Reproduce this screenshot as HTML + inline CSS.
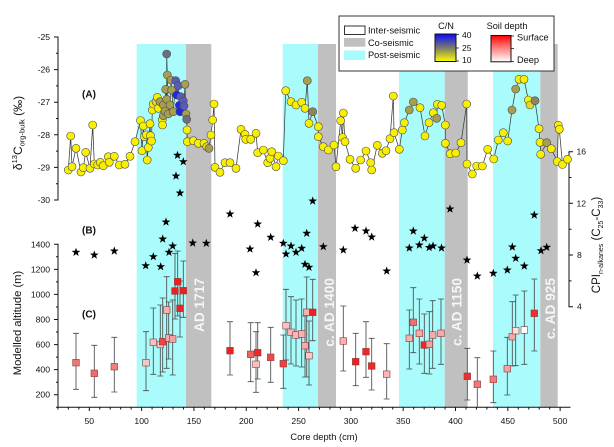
<!DOCTYPE html>
<html><head><meta charset="utf-8">
<style>
html,body{margin:0;padding:0;background:#fff;}
svg{display:block;font-family:"Liberation Sans",Arial,sans-serif;}
.y{fill:#f8f000}.y2{fill:#e0d830}.o{fill:#a89e50}.g{fill:#8c8660}.s{fill:#6e6e80}.p{fill:#5a5ab8}.b{fill:#1e28e8}
</style></head>
<body>
<svg width="614" height="447" viewBox="0 0 614 447" xmlns="http://www.w3.org/2000/svg">
<defs>
<path id="st" d="M0,-4.6L1.08,-1.49L4.37,-1.42L1.75,0.57L2.7,3.72L0,1.84L-2.7,3.72L-1.75,0.57L-4.37,-1.42L-1.08,-1.49Z" fill="#000"/>
<linearGradient id="cn" x1="0" y1="0" x2="0" y2="1"><stop offset="0" stop-color="#0a0aff"/><stop offset="0.5" stop-color="#7a7a6a"/><stop offset="1" stop-color="#ffff00"/></linearGradient>
<linearGradient id="sd" x1="0" y1="0" x2="0" y2="1"><stop offset="0" stop-color="#ff0000"/><stop offset="0.35" stop-color="#ff6060"/><stop offset="1" stop-color="#ffffff"/></linearGradient>
</defs>
<!-- bands -->
<g>
<rect x="136.7" y="44" width="49.3" height="363" fill="#aafcfc"/>
<rect x="186" y="44" width="25.3" height="363" fill="#c0c0c0"/>
<rect x="282.7" y="44" width="35.3" height="363" fill="#aafcfc"/>
<rect x="318" y="44" width="18" height="363" fill="#c0c0c0"/>
<rect x="399" y="44" width="45.7" height="363" fill="#aafcfc"/>
<rect x="444.7" y="44" width="23" height="363" fill="#c0c0c0"/>
<rect x="493" y="44" width="47.3" height="363" fill="#aafcfc"/>
<rect x="540.3" y="44" width="17.4" height="363" fill="#c0c0c0"/>
</g>
<!-- legend -->
<rect x="339" y="16" width="215" height="55" fill="#fff" stroke="#333" stroke-width="1"/>
<rect x="344.5" y="26" width="20.5" height="8.5" fill="#fff" stroke="#333" stroke-width="1"/>
<rect x="344" y="38" width="21.3" height="8.7" fill="#c0c0c0"/>
<rect x="344" y="50.5" width="21.3" height="9.5" fill="#aafcfc"/>
<g font-size="9.2" fill="#111">
<text x="368" y="33.5">Inter-seismic</text>
<text x="368" y="45.8">Co-seismic</text>
<text x="368" y="58">Post-seismic</text>
<text x="446" y="29" text-anchor="middle">C/N</text>
<text x="507" y="29" text-anchor="middle">Soil depth</text>
<text x="517" y="40.5">Surface</text>
<text x="517" y="63">Deep</text>
</g>
<rect x="435" y="34" width="21" height="27.5" fill="url(#cn)" stroke="#111" stroke-width="1"/>
<path d="M456,34.5h3M456,48h3M456,61h3M511,36h3M511,48.5h3M511,61.5h3" stroke="#111" stroke-width="0.8"/>
<rect x="491" y="35.5" width="20" height="26.3" fill="url(#sd)" stroke="#111" stroke-width="1"/>
<g font-size="8.5" fill="#111">
<text x="462" y="38">40</text>
<text x="462" y="51">25</text>
<text x="462" y="63">10</text>
</g>
<!-- band labels -->
<g font-size="13.7" font-weight="bold" fill="#f6f6f6" text-anchor="end">
<text transform="translate(204,278) rotate(-90)">AD 1717</text>
<text transform="translate(334,278) rotate(-90)">c. AD 1400</text>
<text transform="translate(461.5,278) rotate(-90)">c. AD 1150</text>
<text transform="translate(555,278) rotate(-90)">c. AD 925</text>
</g>
<!-- axes -->
<g stroke="#111" stroke-width="1" fill="none">
<path d="M58,36.5V200.5"/>
<path d="M54,37h4M54,69.6h4M54,102.2h4M54,134.8h4M54,167.4h4M54,200h4M56,53.3h2M56,85.9h2M56,118.5h2M56,151.1h2M56,183.7h2"/>
<path d="M58,243.8V407.3"/>
<path d="M54,244.3h4M54,269.4h4M54,294.4h4M54,319.5h4M54,344.6h4M54,369.6h4M54,394.7h4M56,256.8h2M56,281.9h2M56,307h2M56,332h2M56,357.1h2M56,382.2h2"/>
<path d="M56,407.3H570.5"/>
<path d="M89.3,407v4M141.62,407v4M193.93,407v4M246.25,407v4M298.56,407v4M350.88,407v4M403.19,407v4M455.51,407v4M507.82,407v4M560.14,407v4"/>
<path d="M57.91,407v2.5M68.37,407v2.5M78.84,407v2.5M99.76,407v2.5M110.23,407v2.5M120.69,407v2.5M131.15,407v2.5M152.08,407v2.5M162.54,407v2.5M173,407v2.5M183.47,407v2.5M204.39,407v2.5M214.86,407v2.5M225.32,407v2.5M235.78,407v2.5M256.71,407v2.5M267.17,407v2.5M277.63,407v2.5M288.1,407v2.5M309.02,407v2.5M319.49,407v2.5M329.95,407v2.5M340.41,407v2.5M361.34,407v2.5M371.8,407v2.5M382.26,407v2.5M392.73,407v2.5M413.65,407v2.5M424.12,407v2.5M434.58,407v2.5M445.04,407v2.5M465.97,407v2.5M476.43,407v2.5M486.89,407v2.5M497.36,407v2.5M518.28,407v2.5M528.75,407v2.5M539.21,407v2.5M549.67,407v2.5"/>
<path d="M569,151.2V307.2"/>
<path d="M569,151.7h4M569,203.3h4M569,255h4M569,306.7h4M569,177.5h2.5M569,229.2h2.5M569,280.9h2.5"/>
</g>
<g font-size="8.6" fill="#111" text-anchor="end">
<text x="50" y="40">-25</text><text x="50" y="72.6">-26</text><text x="50" y="105.2">-27</text><text x="50" y="137.8">-28</text><text x="50" y="170.4">-29</text><text x="50" y="203">-30</text>
<text x="50" y="247.3">1400</text><text x="50" y="272.4">1200</text><text x="50" y="297.4">1000</text><text x="50" y="322.5">800</text><text x="50" y="347.6">600</text><text x="50" y="372.6">400</text><text x="50" y="397.7">200</text>
</g>
<g font-size="8.6" fill="#111" text-anchor="middle">
<text x="89.3" y="424">50</text><text x="141.6" y="424">100</text><text x="193.9" y="424">150</text><text x="246.2" y="424">200</text><text x="298.6" y="424">250</text><text x="350.9" y="424">300</text><text x="403.2" y="424">350</text><text x="455.5" y="424">400</text><text x="507.8" y="424">450</text><text x="560.1" y="424">500</text>
</g>
<g font-size="8.6" fill="#111">
<text x="576.5" y="154.7">16</text><text x="576.5" y="206.3">12</text><text x="577" y="258">8</text><text x="577" y="309.7">4</text>
</g>
<text x="324" y="440" font-size="9.3" fill="#111" text-anchor="middle">Core depth (cm)</text>
<text transform="translate(21,323) rotate(-90)" font-size="11.2" fill="#111" text-anchor="middle">Modelled altitude (m)</text>
<text transform="translate(22,133) rotate(-90)" font-size="12" fill="#111" text-anchor="middle">δ<tspan font-size="7.5" dy="-5">13</tspan><tspan dy="5">C</tspan><tspan font-size="7.5" dy="2.5">org-bulk</tspan><tspan dy="-2.5"> (‰)</tspan></text>
<text transform="translate(600,245) rotate(-90)" font-size="11.5" fill="#111" text-anchor="middle">CPI<tspan font-size="7" dy="3">n-alkanes</tspan><tspan dy="-3"> (C</tspan><tspan font-size="7" dy="3">25</tspan><tspan dy="-3">-C</tspan><tspan font-size="7" dy="3">33</tspan><tspan dy="-3">)</tspan></text>
<g font-size="10" font-weight="bold" fill="#111" text-anchor="middle">
<text x="89" y="97.5">(A)</text>
<text x="89" y="233.5">(B)</text>
<text x="89" y="317.5">(C)</text>
</g>
<!-- panel A line -->
<polyline fill="none" stroke="#3a3a3a" stroke-width="0.75" points="68.3,170 70.7,136 72,166.7 76,148.3 81,172 83.3,167.7 85.7,152.3 90,168.3 92.7,125 94.3,164 97.7,165 100.3,162.3 103.3,165.7 108.3,156.7 109.3,162.3 114.3,156.3 119.3,165 125,164.3 130,156.3 135,141.7 140.5,120.5 142,150.7 143.3,126 144.3,136.7 146.3,134.8 147.2,160 148.3,147.5 150,123.7 150.5,135.7 151.5,141 152.3,110 153.3,104 156,101.7 157.3,97.3 158.3,108.3 160,101.7 162.3,120 162.5,125 163.3,105 163.3,115.7 165,111 165.7,89.3 166.7,99.3 166.7,54 167.3,75 168.3,114 170,105 171,80 171.7,90 173.3,111.7 175.7,80.7 176.7,95 178.3,85.7 179.3,105.3 180,111.7 180.7,96.7 183.3,101 184,106 185,84.3 186,114 186.7,119.3 187,130 187.3,141.7 193.3,140.7 198.3,143.3 204,143.3 206.7,146.7 209,148.3 211,135 212.7,120 214,104 215,167.3 220,172.3 225,162.7 230,162.7 236,168.3 241,129.3 245,134.3 245.7,139.3 250.7,139.3 256,133.3 257.7,152.7 263.3,150 267.7,162.7 270,158.3 271.7,151.7 276,166.7 278.3,156 283.3,160.7 285.7,90.7 291,101.7 296,105 301.7,102.3 305,108.3 307.3,80.7 309,123.3 312.7,111.7 318.3,126.7 318.3,136.7 323.3,146.7 328.3,150 334,145 336,166.7 340.7,120.7 342.5,137.5 343.3,113 345,141.7 350,159.3 355.7,168.3 360.7,160 366,151 370.7,162.7 371.7,170 377.3,145.3 382.3,153.3 386,150.7 390,138.7 393.3,96 394,132.7 399.3,149.3 402.3,130 404.3,122.7 409.3,110 413.3,102 420,107.7 425,136 429,122.7 433.3,112.7 436.7,118.3 437.3,104.3 441.7,105.3 445.3,125 445.3,143.3 450.3,153.7 455.7,153 461,142.7 466.7,104 467,164 472.3,174 476.7,166 482.3,166 487.7,149.3 493.7,159 498.3,140 503.3,132.7 507.7,141 512,110 515.7,89 519,79.3 524,79.3 528.3,100 530,105 535,100.7 539,128.7 540,142.3 540.7,154.3 546.7,142.7 551.3,148.7 557.3,161.5 558.3,125.3 559.3,129.3 562.5,164.5 567.5,159.2"/>
<g stroke="#4a4a4a" stroke-width="0.6">
<circle class="y" cx="68.3" cy="170" r="4"/><circle class="y" cx="70.7" cy="136" r="4"/><circle class="y" cx="72" cy="166.7" r="4"/><circle class="y" cx="76" cy="148.3" r="4"/><circle class="y" cx="81" cy="172" r="4"/><circle class="y" cx="83.3" cy="167.7" r="4"/><circle class="y" cx="85.7" cy="152.3" r="4"/><circle class="y" cx="90" cy="168.3" r="4"/><circle class="y" cx="92.7" cy="125" r="4"/><circle class="y" cx="94.3" cy="164" r="4"/><circle class="y" cx="97.7" cy="165" r="4"/><circle class="y" cx="100.3" cy="162.3" r="4"/><circle class="y" cx="103.3" cy="165.7" r="4"/><circle class="y" cx="108.3" cy="156.7" r="4"/><circle class="y" cx="109.3" cy="162.3" r="4"/><circle class="y" cx="114.3" cy="156.3" r="4"/><circle class="y" cx="119.3" cy="165" r="4"/><circle class="y" cx="125" cy="164.3" r="4"/><circle class="y" cx="130" cy="156.3" r="4"/><circle class="y" cx="135" cy="141.7" r="4"/><circle class="y" cx="140.5" cy="120.5" r="4"/><circle class="y" cx="142" cy="150.7" r="4"/><circle class="y" cx="143.3" cy="126" r="4"/><circle class="y" cx="144.3" cy="136.7" r="4"/><circle class="y" cx="146.3" cy="134.8" r="4"/><circle class="y" cx="147.2" cy="160" r="4"/><circle class="y" cx="148.3" cy="147.5" r="4"/><circle class="y" cx="150" cy="123.7" r="4"/><circle class="y" cx="150.5" cy="135.7" r="4"/><circle class="y" cx="151.5" cy="141" r="4"/><circle class="y" cx="152.3" cy="110" r="4"/><circle class="y" cx="153.3" cy="104" r="4"/><circle class="y2" cx="156" cy="101.7" r="4"/><circle class="y" cx="157.3" cy="97.3" r="4"/><circle class="y" cx="158.3" cy="108.3" r="4"/><circle class="o" cx="160" cy="101.7" r="4"/><circle class="y" cx="162.3" cy="120" r="4"/><circle class="y" cx="162.5" cy="125" r="4"/><circle class="o" cx="163.3" cy="105" r="4"/><circle class="o" cx="163.3" cy="115.7" r="4"/><circle class="o" cx="165" cy="111" r="4"/><circle class="o" cx="165.7" cy="89.3" r="4"/><circle class="o" cx="166.7" cy="99.3" r="4"/><circle class="s" cx="166.7" cy="54" r="4"/><circle class="o" cx="167.3" cy="75" r="4"/><circle class="o" cx="168.3" cy="114" r="4"/><circle class="o" cx="170" cy="105" r="4"/><circle class="o" cx="171" cy="80" r="4"/><circle class="o" cx="171.7" cy="90" r="4"/><circle class="o" cx="173.3" cy="111.7" r="4"/><circle class="p" cx="175.7" cy="80.7" r="4"/><circle class="b" cx="176.7" cy="95" r="4"/><circle class="p" cx="178.3" cy="85.7" r="4"/><circle class="b" cx="179.3" cy="105.3" r="4"/><circle class="b" cx="180" cy="111.7" r="4"/><circle class="p" cx="180.7" cy="96.7" r="4"/><circle class="p" cx="183.3" cy="101" r="4"/><circle class="p" cx="184" cy="106" r="4"/><circle class="o" cx="185" cy="84.3" r="4"/><circle class="o" cx="186" cy="114" r="4"/><circle class="s" cx="186.7" cy="119.3" r="4"/><circle class="y" cx="187" cy="130" r="4"/><circle class="y" cx="187.3" cy="141.7" r="4"/><circle class="y" cx="193.3" cy="140.7" r="4"/><circle class="y" cx="198.3" cy="143.3" r="4"/><circle class="y" cx="204" cy="143.3" r="4"/><circle class="y2" cx="206.7" cy="146.7" r="4"/><circle class="o" cx="209" cy="148.3" r="4"/><circle class="y" cx="211" cy="135" r="4"/><circle class="y" cx="212.7" cy="120" r="4"/><circle class="y" cx="214" cy="104" r="4"/><circle class="y" cx="215" cy="167.3" r="4"/><circle class="y" cx="220" cy="172.3" r="4"/><circle class="y" cx="225" cy="162.7" r="4"/><circle class="y" cx="230" cy="162.7" r="4"/><circle class="y" cx="236" cy="168.3" r="4"/><circle class="y" cx="241" cy="129.3" r="4"/><circle class="y" cx="245" cy="134.3" r="4"/><circle class="y" cx="245.7" cy="139.3" r="4"/><circle class="y" cx="250.7" cy="139.3" r="4"/><circle class="y" cx="256" cy="133.3" r="4"/><circle class="y" cx="257.7" cy="152.7" r="4"/><circle class="y" cx="263.3" cy="150" r="4"/><circle class="y" cx="267.7" cy="162.7" r="4"/><circle class="y" cx="270" cy="158.3" r="4"/><circle class="y" cx="271.7" cy="151.7" r="4"/><circle class="y" cx="276" cy="166.7" r="4"/><circle class="y" cx="278.3" cy="156" r="4"/><circle class="y" cx="283.3" cy="160.7" r="4"/><circle class="y" cx="285.7" cy="90.7" r="4"/><circle class="y" cx="291" cy="101.7" r="4"/><circle class="y" cx="296" cy="105" r="4"/><circle class="y" cx="301.7" cy="102.3" r="4"/><circle class="y" cx="305" cy="108.3" r="4"/><circle class="o" cx="307.3" cy="80.7" r="4"/><circle class="y" cx="309" cy="123.3" r="4"/><circle class="g" cx="312.7" cy="111.7" r="4"/><circle class="y" cx="318.3" cy="126.7" r="4"/><circle class="y" cx="318.3" cy="136.7" r="4"/><circle class="y" cx="323.3" cy="146.7" r="4"/><circle class="y" cx="328.3" cy="150" r="4"/><circle class="y" cx="334" cy="145" r="4"/><circle class="y" cx="336" cy="166.7" r="4"/><circle class="y" cx="340.7" cy="120.7" r="4"/><circle class="y" cx="342.5" cy="137.5" r="4"/><circle class="y" cx="343.3" cy="113" r="4"/><circle class="y" cx="345" cy="141.7" r="4"/><circle class="y" cx="350" cy="159.3" r="4"/><circle class="y" cx="355.7" cy="168.3" r="4"/><circle class="y" cx="360.7" cy="160" r="4"/><circle class="y" cx="366" cy="151" r="4"/><circle class="y" cx="370.7" cy="162.7" r="4"/><circle class="y" cx="371.7" cy="170" r="4"/><circle class="y" cx="377.3" cy="145.3" r="4"/><circle class="y" cx="382.3" cy="153.3" r="4"/><circle class="y" cx="386" cy="150.7" r="4"/><circle class="y" cx="390" cy="138.7" r="4"/><circle class="y" cx="393.3" cy="96" r="4"/><circle class="y" cx="394" cy="132.7" r="4"/><circle class="y" cx="399.3" cy="149.3" r="4"/><circle class="y" cx="402.3" cy="130" r="4"/><circle class="y" cx="404.3" cy="122.7" r="4"/><circle class="o" cx="409.3" cy="110" r="4"/><circle class="o" cx="413.3" cy="102" r="4"/><circle class="y" cx="420" cy="107.7" r="4"/><circle class="y" cx="425" cy="136" r="4"/><circle class="y" cx="429" cy="122.7" r="4"/><circle class="y" cx="433.3" cy="112.7" r="4"/><circle class="o" cx="436.7" cy="118.3" r="4"/><circle class="y" cx="437.3" cy="104.3" r="4"/><circle class="y" cx="441.7" cy="105.3" r="4"/><circle class="y" cx="445.3" cy="125" r="4"/><circle class="y" cx="445.3" cy="143.3" r="4"/><circle class="y" cx="450.3" cy="153.7" r="4"/><circle class="y" cx="455.7" cy="153" r="4"/><circle class="y" cx="461" cy="142.7" r="4"/><circle class="y" cx="466.7" cy="104" r="4"/><circle class="y" cx="467" cy="164" r="4"/><circle class="y" cx="472.3" cy="174" r="4"/><circle class="y" cx="476.7" cy="166" r="4"/><circle class="y" cx="482.3" cy="166" r="4"/><circle class="y" cx="487.7" cy="149.3" r="4"/><circle class="y" cx="493.7" cy="159" r="4"/><circle class="y" cx="498.3" cy="140" r="4"/><circle class="y" cx="503.3" cy="132.7" r="4"/><circle class="y" cx="507.7" cy="141" r="4"/><circle class="o" cx="512" cy="110" r="4"/><circle class="o" cx="515.7" cy="89" r="4"/><circle class="y" cx="519" cy="79.3" r="4"/><circle class="y" cx="524" cy="79.3" r="4"/><circle class="y" cx="528.3" cy="100" r="4"/><circle class="y2" cx="530" cy="105" r="4"/><circle class="g" cx="535" cy="100.7" r="4"/><circle class="y" cx="539" cy="128.7" r="4"/><circle class="y" cx="540" cy="142.3" r="4"/><circle class="y" cx="540.7" cy="154.3" r="4"/><circle class="o" cx="546.7" cy="142.7" r="4"/><circle class="y" cx="551.3" cy="148.7" r="4"/><circle class="y" cx="557.3" cy="161.5" r="4"/><circle class="y" cx="558.3" cy="125.3" r="4"/><circle class="y" cx="559.3" cy="129.3" r="4"/><circle class="y" cx="562.5" cy="164.5" r="4"/><circle class="y" cx="567.5" cy="159.2" r="4"/>
</g>
<!-- panel B stars -->
<g>
<use href="#st" x="76" y="252.3"/><use href="#st" x="94.3" y="255"/><use href="#st" x="114.3" y="251"/><use href="#st" x="145.7" y="265.7"/><use href="#st" x="153.3" y="256.7"/><use href="#st" x="160.7" y="266.7"/><use href="#st" x="162.7" y="239"/><use href="#st" x="166" y="222"/><use href="#st" x="169" y="252.3"/><use href="#st" x="172.7" y="246"/><use href="#st" x="177.5" y="155.3"/><use href="#st" x="183.3" y="161.7"/><use href="#st" x="176" y="176"/><use href="#st" x="180" y="193"/><use href="#st" x="192.7" y="243"/><use href="#st" x="206.3" y="243.3"/>
<use href="#st" x="230" y="214"/><use href="#st" x="257.7" y="224"/><use href="#st" x="250" y="249"/><use href="#st" x="256" y="272.7"/><use href="#st" x="270.7" y="237.3"/><use href="#st" x="283.3" y="243.3"/><use href="#st" x="286" y="254"/><use href="#st" x="291" y="246"/><use href="#st" x="296" y="252.3"/><use href="#st" x="301.7" y="248.3"/><use href="#st" x="306.7" y="233.3"/><use href="#st" x="305" y="264.3"/><use href="#st" x="309" y="267.3"/><use href="#st" x="312.7" y="201"/><use href="#st" x="323.3" y="246.7"/><use href="#st" x="343.3" y="250"/><use href="#st" x="355" y="228.3"/><use href="#st" x="366" y="231"/><use href="#st" x="371.7" y="237"/><use href="#st" x="386.7" y="271"/>
<use href="#st" x="409.3" y="248"/><use href="#st" x="413.3" y="231"/><use href="#st" x="419.3" y="245"/><use href="#st" x="424.3" y="238.2"/><use href="#st" x="429.2" y="247.5"/><use href="#st" x="433" y="246"/><use href="#st" x="441.5" y="248"/><use href="#st" x="450" y="209"/><use href="#st" x="467" y="260"/><use href="#st" x="477.3" y="276"/><use href="#st" x="493.3" y="273.3"/><use href="#st" x="507.3" y="270"/><use href="#st" x="512.3" y="247"/><use href="#st" x="515.7" y="258.3"/><use href="#st" x="524.3" y="266"/><use href="#st" x="534.3" y="215"/><use href="#st" x="541" y="250.7"/><use href="#st" x="546.7" y="247.3"/>
</g>
<!-- panel C error bars -->
<path fill="none" stroke="#474d4d" stroke-width="0.85" d="
M76,333.3V389.3M73,333.3h6M73,389.3h6
M94.3,345.3V397.3M91.3,345.3h6M91.3,397.3h6
M114.3,337.3V392M111.3,337.3h6M111.3,392h6
M146,331.7V390.7M143,331.7h6M143,390.7h6
M153.3,308V374.3M150.3,308h6M150.3,374.3h6
M160.3,305V376M157.3,305h6M157.3,376h6
M162.7,298V372M159.7,298h6M159.7,372h6
M166.7,276.7V368.3M163.7,276.7h6M163.7,368.3h6
M168.7,302V359M165.7,302h6M165.7,359h6
M172.7,300V375M169.7,300h6M169.7,375h6
M175,253.3V319M172,253.3h6M172,319h6
M177.7,251V316M174.7,251h6M174.7,316h6
M180,281V337M177,281h6M177,337h6
M183.3,261V317.3M180.3,261h6M180.3,317.3h6
M230,321.7V375M227,321.7h6M227,375h6
M250.7,322.7V381.7M247.7,322.7h6M247.7,381.7h6
M256,331.7V392.3M253,331.7h6M253,392.3h6
M257.7,322.7V379M254.7,322.7h6M254.7,379h6
M270.7,327.3V382.3M267.7,327.3h6M267.7,382.3h6
M283.3,335V388.3M280.3,335h6M280.3,388.3h6
M286,289.3V360M283,289.3h6M283,360h6
M291,296.7V364M288,296.7h6M288,364h6
M296,300V366M293,300h6M293,366h6
M301.7,299V367M298.7,299h6M298.7,367h6
M305,316V377M302,316h6M302,377h6
M306.7,277V377M303.7,277h6M303.7,377h6
M309,321V385M306,321h6M306,385h6
M312.7,279.3V340.7M309.7,279.3h6M309.7,340.7h6
M343.3,306V371M340.3,306h6M340.3,371h6
M355.7,333.3V385.7M352.7,333.3h6M352.7,385.7h6
M366,321.7V377.3M363,321.7h6M363,377.3h6
M371.7,338.3V390M368.7,338.3h6M368.7,390h6
M386.7,343.7V399M383.7,343.7h6M383.7,399h6
M409.3,310V369M406.3,310h6M406.3,369h6
M413.3,287.7V352.7M410.3,287.7h6M410.3,352.7h6
M419.3,299V364M416.3,299h6M416.3,364h6
M424.3,314V373.3M421.3,314h6M421.3,373.3h6
M429.3,311.7V374M426.3,311.7h6M426.3,374h6
M432.7,300.7V368.3M429.7,300.7h6M429.7,368.3h6
M441,299V364.3M438,299h6M438,364.3h6
M467.3,348.3V400M464.3,348.3h6M464.3,400h6
M477.3,357.7V407M474.3,357.7h6
M493.3,351V402.7M490.3,351h6M490.3,402.7h6
M507.3,337.3V395M504.3,337.3h6M504.3,395h6
M512.3,301.7V366M509.3,301.7h6M509.3,366h6
M515.7,295V365.7M512.7,295h6M512.7,365.7h6
M524.3,291V364.3M521.3,291h6M521.3,364.3h6
M534.3,279V351M531.3,279h6M531.3,351h6"/>
<g stroke="#8a3a3a" stroke-width="0.6">
<rect x="72.7" y="359.4" width="6.6" height="6.6" fill="#f07676"/>
<rect x="91" y="370" width="6.6" height="6.6" fill="#f06a6a"/>
<rect x="111" y="363.4" width="6.6" height="6.6" fill="#f08080"/>
<rect x="142.7" y="359.4" width="6.6" height="6.6" fill="#f8c4c4"/>
<rect x="150" y="339" width="6.6" height="6.6" fill="#f8c0c0"/>
<rect x="157" y="341.2" width="6.6" height="6.6" fill="#f8c8c8"/>
<rect x="159.4" y="338.4" width="6.6" height="6.6" fill="#f04444"/>
<rect x="163.4" y="306.7" width="6.6" height="6.6" fill="#f8b0b0"/>
<rect x="165.4" y="334.7" width="6.6" height="6.6" fill="#f8a8a8"/>
<rect x="169.4" y="335.7" width="6.6" height="6.6" fill="#f8a0a0"/>
<rect x="171.7" y="287.7" width="6.6" height="6.6" fill="#ee2020"/>
<rect x="174.4" y="278.4" width="6.6" height="6.6" fill="#ee2020"/>
<rect x="176.7" y="305" width="6.6" height="6.6" fill="#ee2020"/>
<rect x="180" y="287.4" width="6.6" height="6.6" fill="#ee2020"/>
<rect x="226.7" y="347.4" width="6.6" height="6.6" fill="#ee2020"/>
<rect x="247.4" y="351" width="6.6" height="6.6" fill="#f06060"/>
<rect x="252.7" y="361" width="6.6" height="6.6" fill="#f8c0c0"/>
<rect x="254.4" y="349.4" width="6.6" height="6.6" fill="#ee2828"/>
<rect x="267.4" y="354" width="6.6" height="6.6" fill="#f04848"/>
<rect x="280" y="360.4" width="6.6" height="6.6" fill="#f04040"/>
<rect x="282.7" y="322.4" width="6.6" height="6.6" fill="#f8c0c0"/>
<rect x="287.7" y="329" width="6.6" height="6.6" fill="#f8b8b8"/>
<rect x="292.7" y="331.7" width="6.6" height="6.6" fill="#f8b8b8"/>
<rect x="298.4" y="330.7" width="6.6" height="6.6" fill="#f8b0b0"/>
<rect x="301.7" y="342.4" width="6.6" height="6.6" fill="#f8a8a8"/>
<rect x="303.4" y="309" width="6.6" height="6.6" fill="#f8b0b0"/>
<rect x="305.7" y="352.4" width="6.6" height="6.6" fill="#f8c8c8"/>
<rect x="309.4" y="309" width="6.6" height="6.6" fill="#ee2020"/>
<rect x="340" y="337.7" width="6.6" height="6.6" fill="#f8b0b0"/>
<rect x="352.4" y="358.4" width="6.6" height="6.6" fill="#ee2020"/>
<rect x="362.7" y="348.4" width="6.6" height="6.6" fill="#ee2828"/>
<rect x="368.4" y="362.7" width="6.6" height="6.6" fill="#ee2828"/>
<rect x="383.4" y="370.9" width="6.6" height="6.6" fill="#f8b8b8"/>
<rect x="406" y="335" width="6.6" height="6.6" fill="#f8b0b0"/>
<rect x="410" y="319" width="6.6" height="6.6" fill="#f07070"/>
<rect x="416" y="330" width="6.6" height="6.6" fill="#f8a8a8"/>
<rect x="421" y="341.7" width="6.6" height="6.6" fill="#ee2828"/>
<rect x="426" y="341" width="6.6" height="6.6" fill="#f8a0a0"/>
<rect x="429.4" y="331.7" width="6.6" height="6.6" fill="#f8a8a8"/>
<rect x="437.7" y="330" width="6.6" height="6.6" fill="#f8a8a8"/>
<rect x="464" y="373" width="6.6" height="6.6" fill="#ee3030"/>
<rect x="474" y="381" width="6.6" height="6.6" fill="#f07a7a"/>
<rect x="490" y="376" width="6.6" height="6.6" fill="#f07a7a"/>
<rect x="504" y="365.4" width="6.6" height="6.6" fill="#f8a0a0"/>
<rect x="509" y="333.4" width="6.6" height="6.6" fill="#f8a8a8"/>
<rect x="512.4" y="327.4" width="6.6" height="6.6" fill="#fce0e0"/>
<rect x="521" y="326.7" width="6.6" height="6.6" fill="#ffffff"/>
<rect x="531" y="310" width="6.6" height="6.6" fill="#ee3030"/>
</g>
</svg>
</body></html>
